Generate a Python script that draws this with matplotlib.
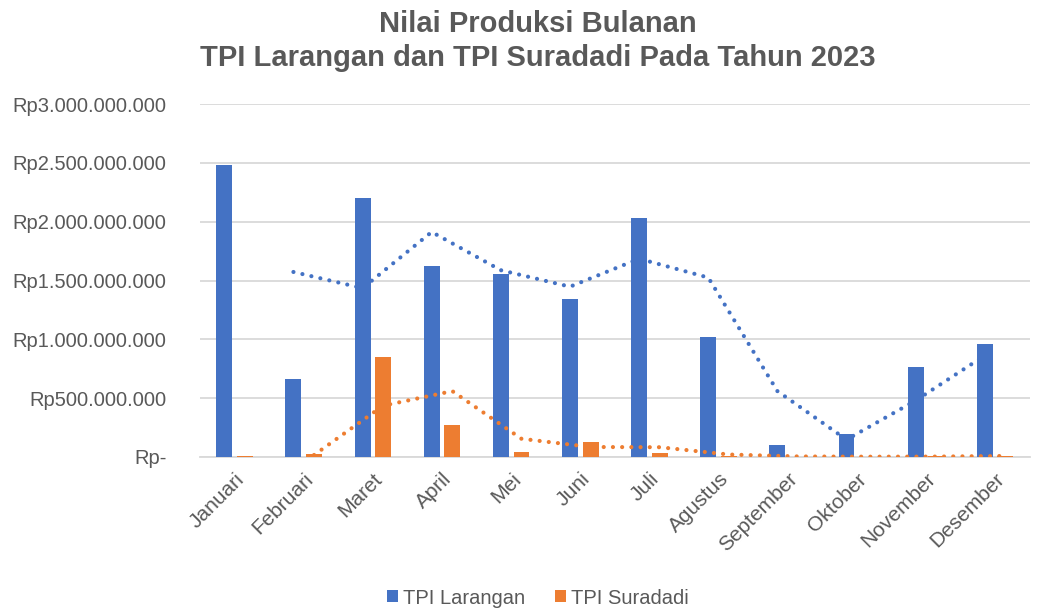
import matplotlib.pyplot as plt
import numpy as np

# Data (Rupiah)
months = ["Januari", "Februari", "Maret", "April", "Mei", "Juni", "Juli",
          "Agustus", "September", "Oktober", "November", "Desember"]
larangan = [2.48e9, 0.665e9, 2.205e9, 1.62e9, 1.555e9, 1.34e9, 2.03e9,
            1.02e9, 0.10e9, 0.195e9, 0.765e9, 0.96e9]
suradadi = [0.012e9, 0.022e9, 0.85e9, 0.27e9, 0.04e9, 0.13e9, 0.036e9,
            0.006e9, 0.003e9, 0.002e9, 0.005e9, 0.012e9]
yticks = [0, 0.5e9, 1.0e9, 1.5e9, 2.0e9, 2.5e9, 3.0e9]
ytick_labels = ["Rp-", "Rp500.000.000", "Rp1.000.000.000", "Rp1.500.000.000",
                "Rp2.000.000.000", "Rp2.500.000.000", "Rp3.000.000.000"]

blue = "#4472C4"
orange = "#ED7D31"
gray = "#595959"

plt.rcParams['font.family'] = ['Liberation Sans', 'DejaVu Sans']

fig = plt.figure(figsize=(10.38, 6.09), dpi=100)
ax = fig.add_axes([0.1927, 0.2496, 0.7993, 0.5796])

x = np.arange(len(months))
off = 0.149
w = 0.23
ax.bar(x - off, larangan, w, color=blue, label="TPI Larangan", zorder=3)
ax.bar(x + off, suradadi, w, color=orange, label="TPI Suradadi", zorder=3)

# 2-period moving average trendlines (as in the Excel chart)
lar = np.array(larangan)
sur = np.array(suradadi)
dots = (0, (0.01, 2.2))
ax.plot(x[1:] - off, (lar[1:] + lar[:-1]) / 2, color=blue, lw=3.0,
        linestyle=dots, dash_capstyle='round', zorder=4)
ax.plot(x[1:] + off, (sur[1:] + sur[:-1]) / 2, color=orange, lw=3.0,
        linestyle=dots, dash_capstyle='round', zorder=4)

ax.set_xlim(-0.5, len(months) - 0.5)
ax.set_ylim(0, 3.0e9)
ax.set_yticks(yticks)
ax.set_yticklabels(ytick_labels)
ax.set_xticks(x)
ax.set_xticklabels(months, rotation=45, ha='right', rotation_mode='anchor')
ax.tick_params(axis='y', length=0, pad=24, labelsize=14.5, labelcolor=gray)
ax.tick_params(axis='x', length=0, pad=9, labelsize=15, labelcolor=gray)

ax.grid(True, axis='y', color="#D9D9D9", lw=1.3, zorder=0)
for s in ["top", "right", "left"]:
    ax.spines[s].set_visible(False)
ax.spines["bottom"].set_color("#D9D9D9")
ax.spines["bottom"].set_linewidth(1.3)

fig.text(0.518, 0.984, "Nilai Produksi Bulanan\nTPI Larangan dan TPI Suradadi Pada Tahun 2023",
         ha='center', va='top', fontsize=21, fontweight='bold', color=gray,
         linespacing=1.28)

fig.legend(loc='center', bbox_to_anchor=(0.518, 0.018), ncol=2, frameon=False,
           fontsize=14.5, labelcolor=gray, handlelength=0.55, handleheight=0.55,
           handletextpad=0.25, columnspacing=1.5)

fig.savefig("out.png", dpi=100)
